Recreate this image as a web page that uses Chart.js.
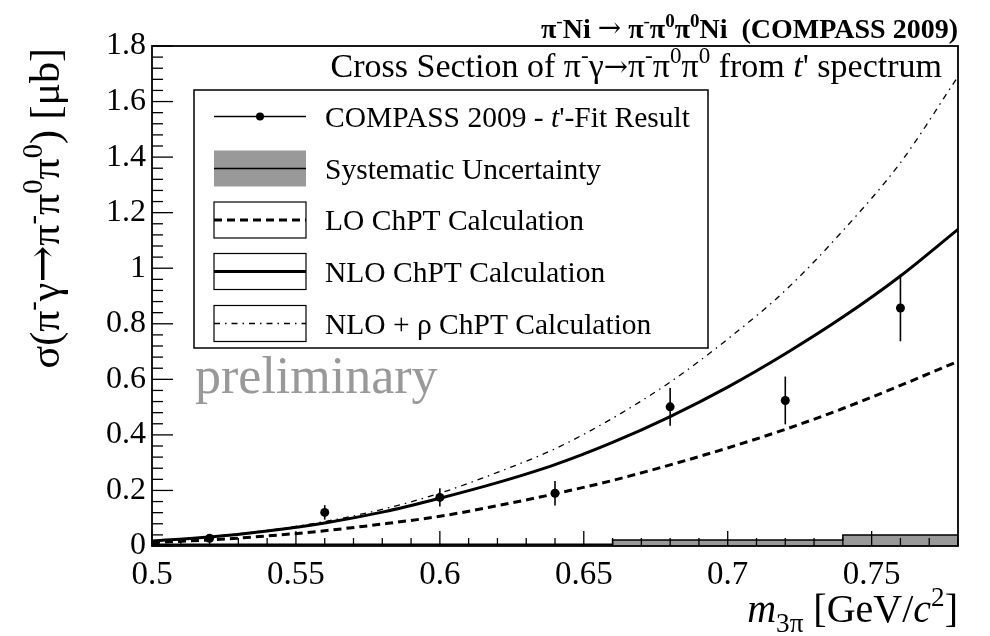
<!DOCTYPE html>
<html>
<head>
<meta charset="utf-8">
<script src="https://cdn.jsdelivr.net/npm/chart.js@4.4.0/dist/chart.umd.min.js"></script>
<style>
  html, body { margin: 0; padding: 0; background: #fff; }
  #wrap { width: 990px; height: 636px; }
</style>
</head>
<body>
<div id="wrap"><canvas id="xs"></canvas></div>
<script>
// data
const massBins  = [0.52, 0.56, 0.60, 0.64, 0.68, 0.72, 0.76];
const sigmaFit  = [0.028, 0.121, 0.175, 0.190, 0.501, 0.524, 0.857];
const sigmaErr  = [0.008, 0.026, 0.033, 0.044, 0.068, 0.086, 0.120];

const curveMass  = [0.50, 0.52, 0.54, 0.56, 0.58, 0.60, 0.62, 0.64, 0.66, 0.68, 0.70, 0.72, 0.74, 0.76, 0.78];
const loChPT     = [0.012, 0.022, 0.036, 0.055, 0.079, 0.107, 0.145, 0.188, 0.236, 0.292, 0.353, 0.420, 0.495, 0.578, 0.665];
const nloChPT    = [0.018, 0.032, 0.054, 0.083, 0.122, 0.172, 0.228, 0.293, 0.373, 0.466, 0.572, 0.692, 0.824, 0.972, 1.140];
const nloRhoChPT = [0.018, 0.034, 0.056, 0.088, 0.132, 0.190, 0.265, 0.350, 0.460, 0.590, 0.745, 0.920, 1.135, 1.380, 1.690];

const sysEdges  = [0.50, 0.54, 0.58, 0.62, 0.66, 0.70, 0.74, 0.78];
const sysValues = [0.006, 0.006, 0.006, 0.006, 0.022, 0.022, 0.040];

const xTicks = ['0.5', '0.55', '0.6', '0.65', '0.7', '0.75'];
const yTicks = ['0', '0.2', '0.4', '0.6', '0.8', '1', '1.2', '1.4', '1.6', '1.8'];

const SERIF = "'Liberation Serif', 'Times New Roman', serif";
const ARROW = "'DejaVu Serif', serif";

// rich text: parts = [{t, i, b, s:'sup'|'sub', f, k}]
function partFont(p, size) {
  const sz = p.s ? size * 0.68 : (p.f ? size * (p.k || 0.85) : size);
  return (p.i ? 'italic ' : '') + (p.b ? 'bold ' : '') + sz + 'px ' + (p.f || SERIF);
}
function drawRich(ctx, parts, x, y, size, align) {
  let w = 0;
  parts.forEach(p => { ctx.font = partFont(p, size); w += ctx.measureText(p.t).width; });
  let cx = align === 'right' ? x - w : (align === 'center' ? x - w / 2 : x);
  ctx.textAlign = 'left';
  ctx.textBaseline = 'alphabetic';
  parts.forEach(p => {
    ctx.font = partFont(p, size);
    const dy = p.s === 'sup' ? -0.4 * size : (p.s === 'sub' ? 0.24 * size : (p.f ? -0.04 * size : 0));
    ctx.fillText(p.t, cx, y + dy);
    cx += ctx.measureText(p.t).width;
  });
}

const titleParts = [
  {t: 'π', b: 1}, {t: '-', s: 'sup'}, {t: 'Ni ', b: 1}, {t: '→', f: ARROW, k: 1}, {t: ' π', b: 1}, {t: '-', s: 'sup'},
  {t: 'π', b: 1}, {t: '0', s: 'sup', b: 1}, {t: 'π', b: 1}, {t: '0', s: 'sup', b: 1}, {t: 'Ni  (COMPASS 2009)', b: 1}
];
const subtitleParts = [
  {t: 'Cross Section of π'}, {t: '-', s: 'sup'}, {t: 'γ'}, {t: '→', f: ARROW}, {t: 'π'}, {t: '-', s: 'sup'},
  {t: 'π'}, {t: '0', s: 'sup'}, {t: 'π'}, {t: '0', s: 'sup'}, {t: ' from '}, {t: 't', i: 1}, {t: "' spectrum"}
];
const yTitleParts = [
  {t: 'σ(π'}, {t: '-', s: 'sup'}, {t: 'γ'}, {t: '→', f: ARROW, k: 1.05}, {t: 'π'}, {t: '-', s: 'sup'}, {t: 'π'}, {t: '0', s: 'sup'},
  {t: 'π'}, {t: '0', s: 'sup'}, {t: ') [μb]'}
];
const xTitleParts = [
  {t: 'm', i: 1}, {t: '3π', s: 'sub'}, {t: ' [GeV/'}, {t: 'c', i: 1}, {t: '2', s: 'sup'}, {t: ']'}
];
const legendParts = [
  [{t: 'COMPASS 2009 - '}, {t: 't', i: 1}, {t: "'-Fit Result"}],
  [{t: 'Systematic Uncertainty'}],
  [{t: 'LO ChPT Calculation'}],
  [{t: 'NLO ChPT Calculation'}],
  [{t: 'NLO + ρ ChPT Calculation'}]
];

const decor = {
  id: 'decor',
  afterDatasetsDraw(chart) {
    const ctx = chart.ctx, xs = chart.scales.x, ys = chart.scales.y;
    ctx.save();
    // error bars
    ctx.strokeStyle = '#000';
    ctx.lineWidth = 1.6;
    massBins.forEach((m, i) => {
      const px = xs.getPixelForValue(m);
      ctx.beginPath();
      ctx.moveTo(px, ys.getPixelForValue(sigmaFit[i] - sigmaErr[i]));
      ctx.lineTo(px, ys.getPixelForValue(sigmaFit[i] + sigmaErr[i]));
      ctx.stroke();
    });

    // preliminary
    ctx.fillStyle = '#999';
    drawRich(ctx, [{t: 'preliminary'}], 195, 393, 52, 'left');

    // legend box
    const lx = 194, ly = 90, lw = 514, lh = 258;
    ctx.fillStyle = '#fff';
    ctx.fillRect(lx, ly, lw, lh);
    ctx.strokeStyle = '#000';
    ctx.lineWidth = 1.5;
    ctx.strokeRect(lx, ly, lw, lh);
    const sx0 = 214, sx1 = 306, rowY = [116.5, 168.5, 220, 271.5, 323.5];
    const ds = chart.data.datasets;
    rowY.forEach((ry, k) => {
      ctx.setLineDash([]);
      if (k === 0) {
        ctx.lineWidth = 1.5;
        ctx.beginPath(); ctx.moveTo(sx0, ry); ctx.lineTo(sx1, ry); ctx.stroke();
        ctx.fillStyle = '#000';
        ctx.beginPath(); ctx.arc((sx0 + sx1) / 2, ry, 4, 0, 2 * Math.PI); ctx.fill();
      } else {
        ctx.fillStyle = k === 1 ? ds[1].backgroundColor : '#fff';
        ctx.fillRect(sx0, ry - 18, sx1 - sx0, 36);
        if (k > 1) {
          ctx.lineWidth = 1.2;
          ctx.strokeStyle = '#000';
          ctx.strokeRect(sx0, ry - 18, sx1 - sx0, 36);
        }
        const d = ds[k];
        ctx.lineWidth = k === 1 ? 1.5 : d.borderWidth;
        ctx.setLineDash(d.borderDash || []);
        ctx.beginPath(); ctx.moveTo(sx0, ry); ctx.lineTo(sx1, ry); ctx.stroke();
        ctx.setLineDash([]);
      }
      ctx.fillStyle = '#000';
      drawRich(ctx, legendParts[k], 325, ry + 10, 29.5, 'left');
    });
    ctx.restore();
  },
  afterDraw(chart) {
    const ctx = chart.ctx, xs = chart.scales.x, ys = chart.scales.y, a = chart.chartArea;
    ctx.save();
    ctx.strokeStyle = '#000';
    ctx.fillStyle = '#000';
    ctx.setLineDash([]);
    // ROOT style ticks
    ctx.lineWidth = 1.3;
    for (let k = 0; k <= 28; k++) {
      const px = xs.getPixelForValue(0.5 + k * 0.01);
      const len = k % 5 === 0 ? 15 : 8;
      ctx.beginPath(); ctx.moveTo(px, a.bottom); ctx.lineTo(px, a.bottom - len); ctx.stroke();
    }
    for (let k = 0; k <= 45; k++) {
      const py = ys.getPixelForValue(k * 0.04);
      const len = k % 5 === 0 ? 21 : 11;
      ctx.beginPath(); ctx.moveTo(a.left, py); ctx.lineTo(a.left + len, py); ctx.stroke();
    }
    // frame
    ctx.lineWidth = 1.8;
    ctx.strokeRect(a.left, a.top, a.right - a.left, a.bottom - a.top);

    // titles
    drawRich(ctx, titleParts, 958, 38, 28, 'right');
    drawRich(ctx, subtitleParts, 942, 77, 34, 'right');
    drawRich(ctx, xTitleParts, 958, 622, 40, 'right');
    ctx.translate(59, 48);
    ctx.rotate(-Math.PI / 2);
    drawRich(ctx, yTitleParts, 0, 0, 42, 'right');
    ctx.restore();
  }
};

const toXY = (xv, yv) => xv.map((v, i) => ({x: v, y: yv[i]}));

new Chart(document.getElementById('xs'), {
  type: 'scatter',
  data: {
    datasets: [
      {
        label: "COMPASS 2009 - t'-Fit Result",
        data: toXY(massBins, sigmaFit),
        pointRadius: 4.5,
        pointBackgroundColor: '#000',
        pointBorderWidth: 0,
        showLine: false,
        order: 0
      },
      {
        label: 'Systematic Uncertainty',
        data: toXY(sysEdges, sysValues.concat([sysValues[sysValues.length - 1]])),
        showLine: true,
        stepped: 'before',
        fill: 'origin',
        backgroundColor: '#999',
        borderColor: '#000',
        borderWidth: 1.5,
        pointRadius: 0,
        order: 4
      },
      {
        label: 'LO ChPT Calculation',
        data: toXY(curveMass, loChPT),
        showLine: true,
        borderColor: '#000',
        borderWidth: 3,
        borderDash: [8, 5],
        cubicInterpolationMode: 'monotone',
        pointRadius: 0,
        order: 2
      },
      {
        label: 'NLO ChPT Calculation',
        data: toXY(curveMass, nloChPT),
        showLine: true,
        borderColor: '#000',
        borderWidth: 3,
        cubicInterpolationMode: 'monotone',
        pointRadius: 0,
        order: 1
      },
      {
        label: 'NLO + ρ ChPT Calculation',
        data: toXY(curveMass, nloRhoChPT),
        showLine: true,
        borderColor: '#000',
        borderWidth: 1.3,
        borderDash: [6, 5, 1.5, 5],
        cubicInterpolationMode: 'monotone',
        pointRadius: 0,
        order: 3
      }
    ]
  },
  options: {
    responsive: true,
    maintainAspectRatio: false,
    animation: false,
    layout: { padding: { top: 46, right: 32, left: 0, bottom: 0 } },
    plugins: { legend: { display: false }, tooltip: { enabled: false } },
    scales: {
      x: {
        type: 'linear',
        min: 0.5,
        max: 0.78,
        grid: { display: false, drawTicks: false },
        border: { display: false },
        afterBuildTicks: s => { s.ticks = xTicks.map(t => ({value: Number(t)})); },
        afterFit: s => { s.height = 90; },
        ticks: {
          padding: 10,
          color: '#000',
          maxRotation: 0,
          autoSkip: false,
          font: { family: SERIF, size: 33 },
          callback: (v, i) => xTicks[i]
        }
      },
      y: {
        type: 'linear',
        min: 0,
        max: 1.8,
        grid: { display: false, drawTicks: false },
        border: { display: false },
        afterBuildTicks: s => { s.ticks = yTicks.map(t => ({value: Number(t)})); },
        afterFit: s => { s.width = 152; },
        ticks: {
          padding: 6,
          color: '#000',
          autoSkip: false,
          font: { family: SERIF, size: 32 },
          callback: (v, i) => yTicks[i]
        }
      }
    }
  },
  plugins: [decor]
});
</script>
</body>
</html>
